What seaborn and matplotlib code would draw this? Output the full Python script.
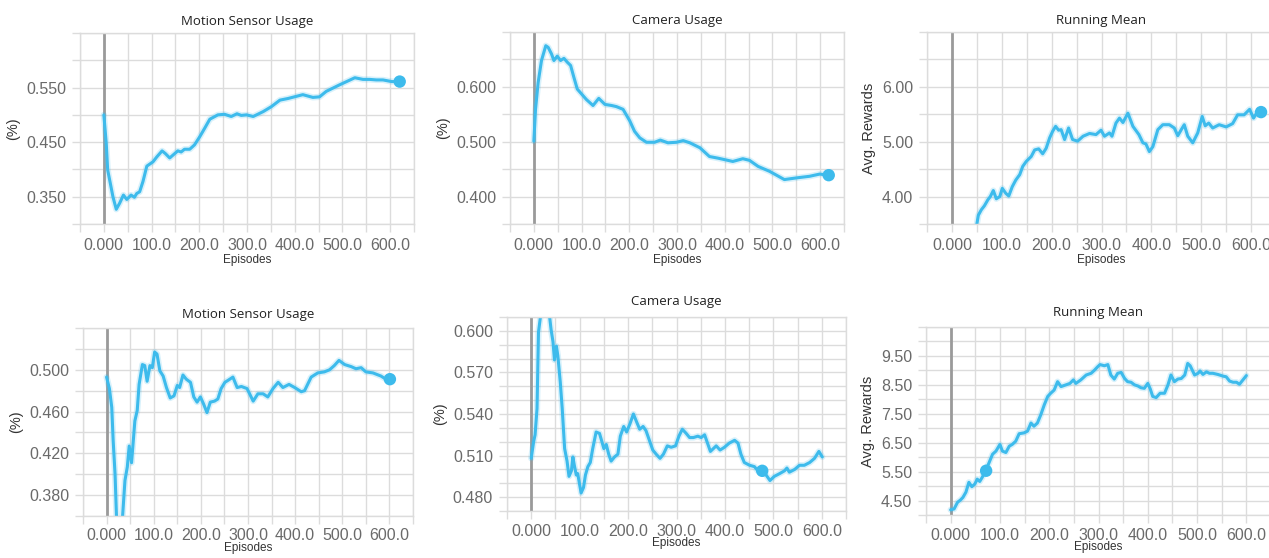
import numpy as np
import pandas as pd
import seaborn as sns
import matplotlib.pyplot as plt

# ---- data ----
# top row
ms1_x = [0, 5, 8, 15, 19, 26, 33, 41, 48, 57, 64, 69, 75, 82, 90, 103, 111, 122, 129, 138,
         155, 162, 169, 180, 190, 201, 211, 222, 239, 253, 267, 279, 288, 299, 313, 334, 351,
         369, 386, 417, 438, 452, 466, 494, 526, 543, 557, 571, 585, 603, 620]
ms1_y = [0.500, 0.448, 0.399, 0.368, 0.350, 0.327, 0.338, 0.353, 0.345, 0.353, 0.349, 0.356,
         0.359, 0.378, 0.406, 0.414, 0.423, 0.434, 0.429, 0.421, 0.434, 0.432, 0.437, 0.437,
         0.445, 0.460, 0.475, 0.492, 0.500, 0.501, 0.497, 0.502, 0.499, 0.500, 0.497, 0.506,
         0.515, 0.527, 0.530, 0.537, 0.532, 0.533, 0.543, 0.555, 0.568, 0.565, 0.565, 0.564,
         0.564, 0.561, 0.561]

cam1_x = [0, 3.5, 9, 16, 25, 30, 37, 42, 49, 56, 63, 70, 77, 84, 91, 100, 110, 124, 136, 149,
          163, 173, 187, 201, 211, 222, 236, 253, 265, 281, 299, 313, 327, 348, 368, 386, 417,
          438, 452, 470, 494, 525, 550, 578, 599, 618]
cam1_y = [0.501, 0.559, 0.608, 0.648, 0.675, 0.672, 0.660, 0.648, 0.656, 0.648, 0.652, 0.645,
          0.639, 0.617, 0.596, 0.587, 0.577, 0.566, 0.579, 0.568, 0.566, 0.564, 0.559, 0.538,
          0.519, 0.507, 0.499, 0.499, 0.503, 0.498, 0.499, 0.502, 0.498, 0.489, 0.473, 0.470,
          0.464, 0.469, 0.466, 0.455, 0.446, 0.431, 0.434, 0.437, 0.441, 0.439]

rm1_x = [50, 53, 59, 65, 72, 77, 83, 89, 96, 101, 108, 114, 121, 128, 136, 142, 149, 159, 166,
         174, 182, 189, 196, 202, 208, 214, 219, 226, 234, 242, 252, 263, 276, 289, 299, 306,
         316, 321, 329, 336, 343, 353, 363, 375, 383, 389, 396, 403, 413, 423, 436, 446, 453,
         460, 466, 473, 483, 493, 502, 508, 515, 523, 536, 550, 563, 573, 586, 597, 605, 611, 620]
rm1_y = [3.50, 3.66, 3.76, 3.83, 3.94, 4.00, 4.11, 3.96, 4.00, 4.15, 4.06, 4.01, 4.18, 4.30,
         4.40, 4.55, 4.64, 4.73, 4.85, 4.87, 4.78, 4.88, 5.07, 5.19, 5.28, 5.21, 5.22, 5.04,
         5.25, 5.04, 5.01, 5.10, 5.15, 5.13, 5.21, 5.10, 5.16, 5.10, 5.34, 5.43, 5.35, 5.52,
         5.28, 5.13, 4.98, 4.96, 4.82, 4.91, 5.22, 5.31, 5.31, 5.25, 5.11, 5.22, 5.31, 5.10,
         4.98, 5.16, 5.46, 5.29, 5.34, 5.25, 5.31, 5.27, 5.33, 5.49, 5.49, 5.59, 5.43, 5.52, 5.54]

# bottom row
ms2_x = [0, 6, 11, 14, 18, 21, 28, 34, 39, 44, 48, 53, 60, 65, 69, 76, 81, 86, 92, 97, 102,
         107, 113, 120, 127, 135, 143, 150, 155, 162, 169, 178, 185, 192, 199, 206, 213, 220,
         229, 236, 243, 251, 258, 268, 277, 286, 298, 311, 321, 332, 342, 353, 364, 374, 387,
         399, 413, 420, 434, 448, 462, 473, 483, 493, 505, 519, 529, 540, 550, 565, 582, 596, 601]
ms2_y = [0.493, 0.482, 0.464, 0.432, 0.400, 0.360, 0.335, 0.360, 0.394, 0.407, 0.427, 0.411,
         0.451, 0.461, 0.486, 0.505, 0.504, 0.489, 0.504, 0.502, 0.517, 0.515, 0.499, 0.494,
         0.483, 0.473, 0.475, 0.485, 0.483, 0.495, 0.491, 0.488, 0.474, 0.469, 0.474, 0.467,
         0.459, 0.469, 0.470, 0.472, 0.482, 0.488, 0.490, 0.493, 0.483, 0.484, 0.482, 0.470,
         0.477, 0.477, 0.474, 0.482, 0.488, 0.483, 0.486, 0.483, 0.479, 0.480, 0.493, 0.497,
         0.498, 0.500, 0.504, 0.509, 0.505, 0.503, 0.501, 0.502, 0.498, 0.497, 0.494, 0.490, 0.491]

cam2_x = [0, 5, 8, 12, 15, 19, 28, 38, 41, 45, 48, 52, 55, 60, 64, 69, 74, 78, 83, 86, 89, 93,
          96, 100, 103, 108, 112, 117, 122, 127, 134, 141, 146, 150, 155, 160, 165, 172, 179,
          184, 191, 197, 204, 211, 218, 224, 231, 237, 244, 251, 258, 266, 273, 281, 289, 298,
          305, 312, 320, 327, 335, 344, 351, 358, 365, 370, 376, 382, 390, 399, 409, 420, 427,
          433, 440, 451, 461, 468, 478, 485, 493, 502, 513, 523, 528, 533, 544, 554, 564, 575,
          585, 594, 601]
cam2_y = [0.508, 0.520, 0.525, 0.544, 0.599, 0.610, 0.640, 0.610, 0.601, 0.592, 0.579, 0.589,
          0.582, 0.563, 0.544, 0.515, 0.506, 0.495, 0.499, 0.509, 0.503, 0.496, 0.497, 0.489,
          0.483, 0.487, 0.496, 0.502, 0.505, 0.515, 0.527, 0.526, 0.520, 0.515, 0.518, 0.511,
          0.506, 0.509, 0.511, 0.524, 0.531, 0.527, 0.533, 0.540, 0.534, 0.529, 0.531, 0.528,
          0.521, 0.514, 0.511, 0.508, 0.511, 0.517, 0.516, 0.517, 0.524, 0.529, 0.526, 0.523,
          0.523, 0.524, 0.523, 0.525, 0.518, 0.513, 0.515, 0.517, 0.514, 0.516, 0.519, 0.521,
          0.519, 0.511, 0.505, 0.503, 0.502, 0.499, 0.499, 0.496, 0.492, 0.495, 0.497, 0.499,
          0.501, 0.498, 0.500, 0.503, 0.503, 0.505, 0.508, 0.513, 0.509]

rm2_x = [0, 7, 14, 20, 25, 31, 37, 43, 49, 54, 59, 64, 71, 78, 85, 92, 100, 105, 112, 119, 125,
         132, 139, 149, 156, 163, 169, 176, 183, 190, 197, 203, 210, 217, 224, 234, 242, 249,
         254, 264, 275, 285, 292, 298, 303, 312, 319, 325, 332, 339, 346, 353, 359, 366, 373,
         380, 386, 393, 400, 405, 410, 417, 425, 434, 441, 447, 454, 461, 468, 475, 481, 486,
         495, 502, 506, 512, 519, 525, 532, 542, 553, 559, 566, 573, 580, 586, 593, 600]
rm2_y = [4.18, 4.21, 4.44, 4.52, 4.61, 4.79, 5.13, 4.98, 5.07, 5.24, 5.16, 5.30, 5.53, 5.81,
         6.10, 6.21, 6.44, 6.21, 6.16, 6.38, 6.44, 6.55, 6.81, 6.84, 6.90, 7.18, 7.07, 7.18,
         7.47, 7.81, 8.10, 8.21, 8.32, 8.61, 8.44, 8.50, 8.55, 8.67, 8.55, 8.67, 8.84, 8.90,
         9.01, 9.12, 9.20, 9.16, 9.20, 8.84, 8.70, 8.90, 8.93, 8.72, 8.61, 8.59, 8.50, 8.46,
         8.40, 8.38, 8.55, 8.36, 8.10, 8.06, 8.21, 8.21, 8.50, 8.84, 8.61, 8.70, 8.72, 8.84,
         9.24, 9.16, 8.84, 8.90, 8.98, 8.86, 8.95, 8.90, 8.90, 8.86, 8.80, 8.78, 8.63, 8.59,
         8.59, 8.52, 8.67, 8.82]

# highlighted points
markers = [(620, 0.561), (618, 0.439), (620, 5.54), (601, 0.491), (477, 0.499), (72, 5.53)]

titles = ["Motion Sensor Usage", "Camera Usage", "Running Mean",
          "Motion Sensor Usage", "Camera Usage", "Running Mean"]
ylabels = ["(%)", "(%)", "Avg. Rewards", "(%)", "(%)", "Avg. Rewards"]

x_ticks = [0, 100, 200, 300, 400, 500, 600]
x_ticklabels = ["0.000", "100.0", "200.0", "300.0", "400.0", "500.0", "600.0"]

# y ticks (labelled) and y grid step per panel
y_ticks = [[0.35, 0.45, 0.55], [0.40, 0.50, 0.60], [4.0, 5.0, 6.0],
           [0.38, 0.42, 0.46, 0.50], [0.48, 0.51, 0.54, 0.57, 0.60],
           [4.5, 5.5, 6.5, 7.5, 8.5, 9.5]]
y_fmt = ["%.3f", "%.3f", "%.2f", "%.3f", "%.3f", "%.2f"]
y_lims = [(0.30, 0.65), (0.35, 0.70), (3.5, 7.0), (0.36, 0.54), (0.47, 0.61), (4.0, 10.5)]
y_steps = [0.05, 0.05, 0.5, 0.02, 0.01, 0.5]

series = [(ms1_x, ms1_y), (cam1_x, cam1_y), (rm1_x, rm1_y),
          (ms2_x, ms2_y), (cam2_x, cam2_y), (rm2_x, rm2_y)]

# axes positions in pixels (left, top, right, bottom)
W, H = 1269, 558
boxes_px = [(80, 33, 414, 224), (510, 32, 844, 224), (927, 32, 1276, 224),
            (83, 328, 413, 516), (507, 317, 846, 511), (926, 327, 1271, 515)]
title_pads = [6, 6, 6, 7, 9, 8]
xtick_pads = [4, 4, 4, 3, 3, 3]
xlabel_pads = [1, 1, 1, -1, -1, -1]

sns.set_theme(style="whitegrid")
plt.rcParams['font.family'] = ['Liberation Sans', 'DejaVu Sans']

line_color = "#3dbbec"
grid_color = "#dcdcdc"

fig = plt.figure(figsize=(W / 100, H / 100), dpi=100)

for i, (xs, ys) in enumerate(series):
    l, t, r, b = boxes_px[i]
    ax = fig.add_axes([l / W, 1 - b / H, (r - l) / W, (b - t) / H])
    ax.set_facecolor("white")

    df = pd.DataFrame({"Episodes": xs, "value": ys})
    # faint halo, then the main line
    sns.lineplot(data=df, x="Episodes", y="value", ax=ax, color=line_color,
                 linewidth=4.5, alpha=0.2)
    sns.lineplot(data=df, x="Episodes", y="value", ax=ax, color=line_color,
                 linewidth=2.2)
    mx, my = markers[i]
    sns.scatterplot(x=[mx], y=[my], ax=ax, color=line_color, s=80,
                    edgecolor="none", zorder=5)

    ax.axvline(0, color="#9a9a9a", linewidth=2, zorder=1)

    ax.set_xlim(-50, 650)
    ax.set_ylim(*y_lims[i])
    ax.set_xticks(x_ticks)
    ax.set_xticklabels(x_ticklabels)
    ax.set_xticks(np.arange(-50, 651, 100), minor=True)
    ax.set_yticks(y_ticks[i])
    ax.set_yticklabels([y_fmt[i] % v for v in y_ticks[i]])
    lo, hi = y_lims[i]
    n = int(round((hi - lo) / y_steps[i]))
    ax.set_yticks([lo + k * y_steps[i] for k in range(n + 1)], minor=True)

    ax.grid(True, which="both", color=grid_color, linewidth=1)
    ax.tick_params(which="both", length=6, width=1, color=grid_color,
                   direction="out", left=True, bottom=True)
    ax.tick_params(axis="both", which="major", labelsize=11.5,
                   labelcolor="#6a6a6a", pad=4)
    ax.tick_params(axis="x", which="major", pad=xtick_pads[i])
    for s in ax.spines.values():
        s.set_color(grid_color)
        s.set_linewidth(1)

    ax.set_title(titles[i], fontsize=9.5, color="#222222",
                 family=["Open Sans", "DejaVu Sans"], pad=title_pads[i])
    ax.set_xlabel("Episodes", fontsize=8.5, color="#333333", labelpad=xlabel_pads[i])
    ax.set_ylabel(ylabels[i], fontsize=10.5, color="#333333", labelpad=4)

fig.savefig("out.png", dpi=100, facecolor="white")
